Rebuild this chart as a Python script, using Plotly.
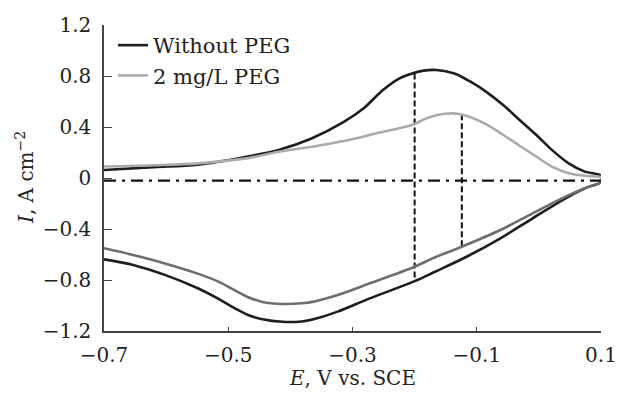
import plotly.graph_objects as go

# ---- data ----
# Without PEG, anodic (upper) branch
wo_up_x = [-0.70, -0.62, -0.549, -0.471, -0.419, -0.366, -0.314, -0.282, -0.251, -0.225, -0.204,
           -0.188, -0.165, -0.136, -0.110, -0.083, -0.057, -0.031, -0.004, 0.021, 0.048, 0.074, 0.10]
wo_up_y = [0.063, 0.085, 0.105, 0.167, 0.22, 0.31, 0.44, 0.547, 0.69, 0.78, 0.82,
           0.84, 0.847, 0.82, 0.755, 0.67, 0.57, 0.455, 0.337, 0.22, 0.115, 0.05, 0.018]
# Without PEG, cathodic (lower) branch
wo_dn_x = [0.10, 0.074, 0.043, -0.010, -0.062, -0.114, -0.167, -0.202, -0.272, -0.324, -0.361,
           -0.382, -0.413, -0.445, -0.468, -0.49, -0.515, -0.549, -0.602, -0.653, -0.70]
wo_dn_y = [-0.029, -0.081, -0.159, -0.316, -0.473, -0.612, -0.735, -0.813, -0.944, -1.048, -1.105,
           -1.125, -1.128, -1.108, -1.075, -1.02, -0.95, -0.865, -0.76, -0.682, -0.638]
# 2 mg/L PEG, anodic (upper) branch
peg_up_x = [-0.70, -0.62, -0.549, -0.471, -0.419, -0.366, -0.314, -0.262, -0.202, -0.185, -0.165,
            -0.145, -0.128, -0.112, -0.096, -0.083, -0.057, -0.031, -0.004, 0.021, 0.048, 0.074, 0.10]
peg_up_y = [0.09, 0.10, 0.115, 0.154, 0.206, 0.245, 0.29, 0.35, 0.42, 0.46, 0.492,
            0.506, 0.502, 0.48, 0.448, 0.416, 0.337, 0.253, 0.167, 0.089, 0.037, 0.018, 0.01]
# 2 mg/L PEG, cathodic (lower) branch
peg_dn_x = [0.10, 0.074, 0.043, -0.010, -0.062, -0.124, -0.167, -0.202, -0.272, -0.324, -0.361,
            -0.382, -0.413, -0.445, -0.468, -0.49, -0.515, -0.549, -0.602, -0.653, -0.70]
peg_dn_y = [-0.037, -0.081, -0.146, -0.277, -0.408, -0.539, -0.622, -0.70, -0.826, -0.918, -0.968,
            -0.983, -0.988, -0.972, -0.935, -0.88, -0.815, -0.75, -0.67, -0.604, -0.551]

# guide lines
guide_x = [-0.2, -0.124]
guide_top = [0.82, 0.50]
guide_bottom = [-0.813, -0.539]
zero_line_y = -0.02

x_ticks = [-0.7, -0.5, -0.3, -0.1, 0.1]
x_ticktext = ["\u22120.7", "\u22120.5", "\u22120.3", "\u22120.1", "0.1"]
y_ticks = [-1.2, -0.8, -0.4, 0, 0.4, 0.8, 1.2]
y_ticktext = ["\u22121.2", "\u22120.8", "\u22120.4", "0", "0.4", "0.8", "1.2"]

FONT = "DejaVu Serif"
DARK = "#1e1e1e"
LIGHT = "#ababab"
MID = "#6e6e6e"

fig = go.Figure()

# zero dash-dot line
fig.add_trace(go.Scatter(x=[x_ticks[0], x_ticks[-1]], y=[zero_line_y, zero_line_y], mode="lines",
                         line=dict(color="#111111", width=2.2, dash="12px,6px,3px,6px"),
                         showlegend=False, hoverinfo="skip"))

# vertical dashed guides
for gx, gt, gb in zip(guide_x, guide_top, guide_bottom):
    fig.add_trace(go.Scatter(x=[gx, gx], y=[gt, gb], mode="lines",
                             line=dict(color="#111111", width=2, dash="6px,3px"),
                             showlegend=False, hoverinfo="skip"))

fig.add_trace(go.Scatter(x=wo_up_x + wo_dn_x, y=wo_up_y + wo_dn_y, mode="lines",
                         name="Without PEG", line=dict(color=DARK, width=2.6, shape="spline", smoothing=1.0)))
fig.add_trace(go.Scatter(x=peg_up_x, y=peg_up_y, mode="lines",
                         name="2 mg/L PEG", line=dict(color=LIGHT, width=2.6, shape="spline", smoothing=1.0)))
fig.add_trace(go.Scatter(x=peg_dn_x, y=peg_dn_y, mode="lines",
                         name="2 mg/L PEG (reverse)", showlegend=False,
                         line=dict(color=MID, width=2.6, shape="spline", smoothing=1.0)))

axis_common = dict(showline=True, linecolor="#444444", linewidth=1.5, ticks="inside",
                   tickcolor="#444444", tickwidth=1.2, showgrid=False, zeroline=False,
                   tickfont=dict(family=FONT, size=20, color="#222222"))

fig.update_layout(
    width=629, height=397,
    margin=dict(l=104, r=16, t=25, b=66),
    paper_bgcolor="white", plot_bgcolor="white",
    xaxis=dict(range=[-0.7, 0.1], tickvals=x_ticks, ticktext=x_ticktext, ticklen=4,
               ticklabelstandoff=5, **axis_common),
    yaxis=dict(range=[-1.2, 1.2], tickvals=y_ticks, ticktext=y_ticktext, ticklen=8,
               ticklabelstandoff=7, **axis_common),
    legend=dict(x=0.018, y=1.0, xanchor="left", yanchor="top", bgcolor="rgba(0,0,0,0)",
                font=dict(family=FONT, size=21, color="#222222"), tracegroupgap=0,
                itemwidth=30),
    annotations=[
        dict(text="<i>E</i>, V vs. SCE", x=0.5, y=0, xref="paper", yref="paper",
             xanchor="center", yanchor="middle", yshift=-47, showarrow=False,
             font=dict(family=FONT, size=20, color="#222222")),
        dict(text="<i>I</i>, A cm<sup>\u22122</sup>", x=0, y=0.5, xref="paper", yref="paper",
             xanchor="center", yanchor="middle", xshift=-79, textangle=-90, showarrow=False,
             font=dict(family=FONT, size=20, color="#222222")),
    ],
)

fig.write_html("out.html")
